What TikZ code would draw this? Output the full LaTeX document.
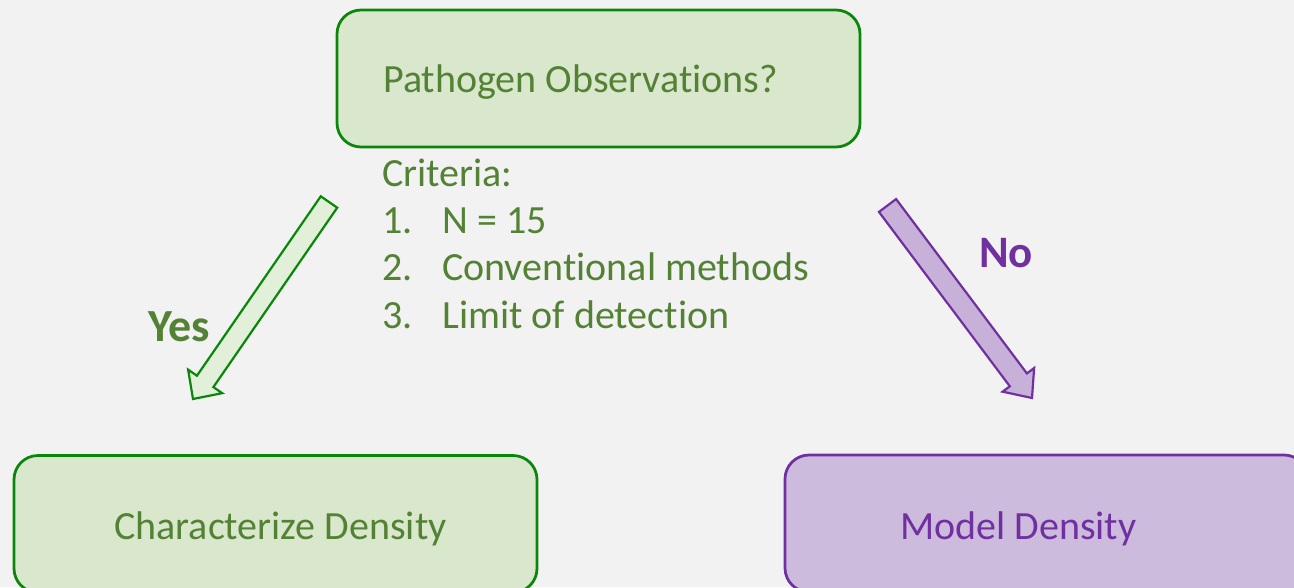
\documentclass[tikz,border=0pt]{standalone}
\usepackage{fontspec}
\setmainfont{Carlito}[Ligatures=NoCommon]
\usetikzlibrary{calc}
\definecolor{bgc}{HTML}{F2F2F2}
\definecolor{gfill}{HTML}{D9E7CC}
\definecolor{gafill}{HTML}{E2F0D9}
\definecolor{gline}{HTML}{0A870A}
\definecolor{gtext}{HTML}{548235}
\definecolor{pfill}{HTML}{CCBBDC}
\definecolor{pafill}{HTML}{C7B1D9}
\definecolor{pline}{HTML}{7030A0}
\tikzset{
  gbox/.style={draw=gline, fill=gfill, line width=2.75pt, rounded corners=24pt, minimum width=523pt, minimum height=137pt, inner sep=0pt},
  pbox/.style={draw=pline, fill=pfill, line width=2.75pt, rounded corners=24pt, minimum width=523pt, minimum height=137pt, inner sep=0pt},
  gtxt/.style={text=gtext, font=\fontsize{40}{46}\selectfont, anchor=base west, inner sep=0pt},
  ptxt/.style={text=pline, font=\fontsize{40}{46}\selectfont, anchor=base west, inner sep=0pt},
  glab/.style={text=gtext, font=\fontsize{46}{52}\selectfont\bfseries, anchor=base west, inner sep=0pt},
  plab/.style={text=pline, font=\fontsize{45}{52}\selectfont\bfseries, anchor=base west, inner sep=0pt},
  garrow/.style={draw=gline, fill=gafill, line width=2.2pt, line join=miter},
  parrow/.style={draw=pline, fill=pafill, line width=2.2pt, line join=miter},
}
\begin{document}
\begin{tikzpicture}[x=1pt,y=-1pt]
\fill[bgc] (0,0) rectangle (1294,587);
\useasboundingbox (0,0) rectangle (1294,587);
\clip (0,0) rectangle (1294,587);
% boxes
\node[gbox] (top) at (598.5,78.5) {};
\node[gbox] (left) at (275.5,524) {};
\node[pbox] (right) at (1046.5,523.5) {};
% box texts
\node[gtxt] (toptext) at (383,92) {Pathogen Observations?};
\node[gtxt] (lefttext) at (114,539) {Characterize Density};
\node[ptxt] (righttext) at (900,539) {Model Density};
% criteria
\node[gtxt] (crit) at (382,186) {Criteria:};
\node[gtxt] (n1) at (382,233) {1.};
\node[gtxt] (c1) at (442,233) {N = 15};
\node[gtxt] (n2) at (382,280) {2.};
\node[gtxt] (c2) at (442,280) {Conventional methods};
\node[gtxt] (n3) at (382,328) {3.};
\node[gtxt] (c3) at (442,328) {Limit of detection};
% labels
\node[glab] (yes) at (148,341) {Yes};
\node[plab] (no) at (979,267) {No};
% green block arrow
\coordinate (tG) at (329,202);
\coordinate (pG) at (193,399);
\coordinate (hG) at ($(tG)!218pt!(pG)$);
\draw[garrow] ($(tG)!10pt!90:(pG)$) -- ($(hG)!10pt!-90:(tG)$) -- ($(hG)!20.7pt!-90:(tG)$) -- (pG)
  -- ($(hG)!20.7pt!90:(tG)$) -- ($(hG)!10pt!90:(tG)$) -- ($(tG)!10pt!-90:(pG)$) -- cycle;
% purple block arrow
\coordinate (tP) at (887.5,205.5);
\coordinate (pP) at (1032,398);
\coordinate (hP) at ($(tP)!218pt!(pP)$);
\draw[parrow] ($(tP)!10.7pt!90:(pP)$) -- ($(hP)!10.7pt!-90:(tP)$) -- ($(hP)!19.7pt!-90:(tP)$) -- (pP)
  -- ($(hP)!19.7pt!90:(tP)$) -- ($(hP)!10.7pt!90:(tP)$) -- ($(tP)!10.7pt!-90:(pP)$) -- cycle;
\end{tikzpicture}
\end{document}
